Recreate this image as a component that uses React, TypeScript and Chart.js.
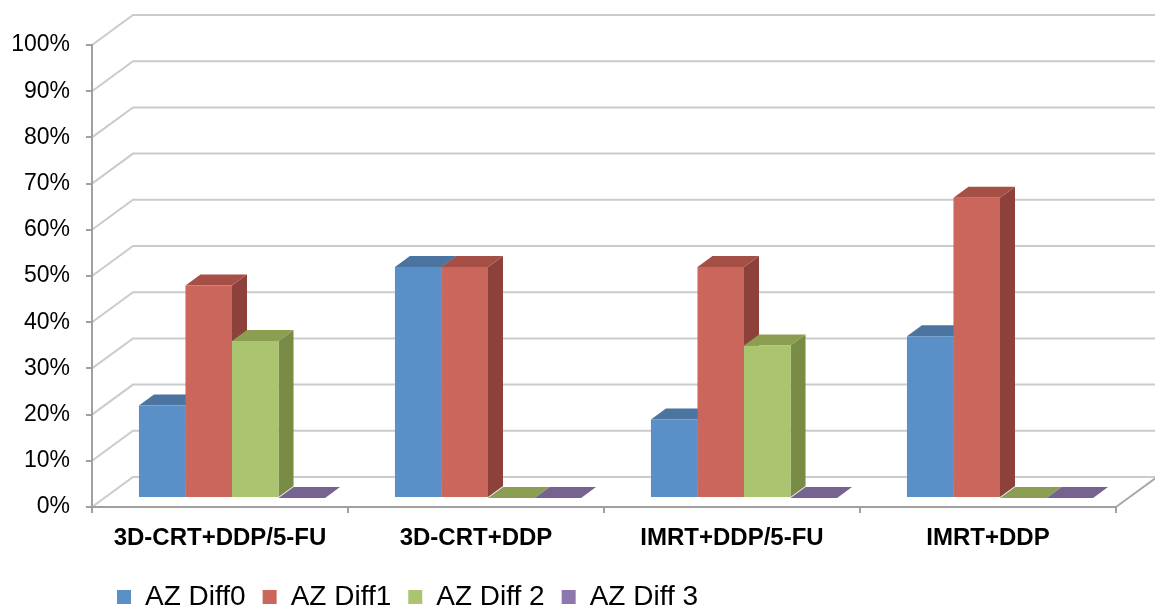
import React, { useEffect, useRef } from 'react';
import { Chart, registerables } from 'chart.js';

Chart.register(...registerables);

// ---- data ----
const categories = ['3D-CRT+DDP/5-FU', '3D-CRT+DDP', 'IMRT+DDP/5-FU', 'IMRT+DDP'];
const seriesNames = ['AZ Diff0', 'AZ Diff1', 'AZ Diff 2', 'AZ Diff 3'];
const diff0 = [20, 50, 17, 35];
const diff1 = [46, 50, 50, 65];
const diff2 = [34, 0, 33, 0];
const diff3 = [0, 0, 0, 0];
const yTickValues = [0, 10, 20, 30, 40, 50, 60, 70, 80, 90, 100];

// ---- styles ----
const frontColors = ['#5B8FC7', '#CB665D', '#ABC46F', '#8E76AE'];
const topColors = ['#4B74A1', '#A64F47', '#8B9E52', '#77638F'];
const sideColors = ['#41658F', '#8C413B', '#788C46', '#64527A'];

const WALL_DX = 41;
const WALL_DY = -30;
const BAR_SHIFT_X = 12;
const BAR_SHIFT_Y = -9;
const BAR_DX = 15;
const BAR_DY = -11;

const FONT = 'Arial, "Liberation Sans", sans-serif';

const threeD = {
  id: 'threeD',
  afterLayout(chart: any) {
    const lg = chart.legend;
    if (lg) {
      const shift = 100 - lg.left;
      lg.left += shift;
      lg.right += shift;
      const h = lg.height;
      lg.top = 566;
      lg.bottom = lg.top + h;
    }
  },
  beforeDraw(chart: any) {
    const { ctx, chartArea: a } = chart;
    const y = chart.scales.y;
    ctx.save();
    ctx.lineWidth = 2;
    ctx.strokeStyle = '#cbcbcb';
    for (const v of yTickValues) {
      const py = y.getPixelForValue(v);
      ctx.beginPath();
      ctx.moveTo(a.left, py);
      ctx.lineTo(a.left + WALL_DX, py + WALL_DY);
      ctx.lineTo(a.right + WALL_DX + 2, py + WALL_DY);
      ctx.stroke();
    }
    ctx.strokeStyle = '#a8a8a8';
    ctx.beginPath();
    ctx.moveTo(a.right, a.bottom);
    ctx.lineTo(a.right + WALL_DX, a.bottom + WALL_DY);
    ctx.stroke();
    ctx.restore();
  },
  beforeDatasetsDraw(chart: any) {
    const ctx = chart.ctx;
    const n = chart.data.labels.length;
    const nd = chart.data.datasets.length;
    ctx.save();
    ctx.translate(BAR_SHIFT_X, BAR_SHIFT_Y);
    for (let i = 0; i < n; i++) {
      for (let d = 0; d < nd; d++) {
        const bar = chart.getDatasetMeta(d).data[i];
        if (!bar) continue;
        const { x, y, base, width } = bar.getProps(['x', 'y', 'base', 'width'], true);
        const L = x - width / 2;
        const R = x + width / 2;
        // side
        ctx.fillStyle = sideColors[d];
        ctx.beginPath();
        ctx.moveTo(R, y);
        ctx.lineTo(R + BAR_DX, y + BAR_DY);
        ctx.lineTo(R + BAR_DX, base + BAR_DY);
        ctx.lineTo(R, base);
        ctx.closePath();
        ctx.fill();
        // top
        ctx.fillStyle = topColors[d];
        ctx.beginPath();
        ctx.moveTo(L, y);
        ctx.lineTo(L + BAR_DX, y + BAR_DY);
        ctx.lineTo(R + BAR_DX, y + BAR_DY);
        ctx.lineTo(R, y);
        ctx.closePath();
        ctx.fill();
      }
    }
    ctx.restore();
    ctx.save();
    ctx.translate(BAR_SHIFT_X, BAR_SHIFT_Y);
  },
  afterDatasetsDraw(chart: any) {
    chart.ctx.restore();
  },
};

export default function App() {
  const ref = useRef<HTMLCanvasElement | null>(null);

  useEffect(() => {
    document.body.style.margin = '0';
    if (!ref.current) return;
    const seriesValues = [diff0, diff1, diff2, diff3];
    const chart = new Chart(ref.current, {
      type: 'bar',
      data: {
        labels: categories,
        datasets: seriesNames.map((name, d) => ({
          label: name,
          data: seriesValues[d],
          backgroundColor: frontColors[d],
          borderWidth: 0,
          barPercentage: 1,
          categoryPercentage: 0.727,
          clip: false as any,
        })),
      },
      options: {
        animation: false,
        responsive: true,
        maintainAspectRatio: false,
        layout: { padding: { top: 45, right: 39, bottom: 0, left: 0 } },
        plugins: {
          legend: {
            display: true,
            position: 'bottom',
            align: 'start',
            labels: {
              boxWidth: 14,
              boxHeight: 14,
              padding: 17,
              color: '#000',
              font: { family: FONT, size: 28 },
            },
          },
          tooltip: { enabled: false },
          title: { display: false },
        },
        scales: {
          x: {
            grid: {
              display: true,
              drawOnChartArea: false,
              drawTicks: true,
              tickLength: 6,
              color: '#a0a0a0',
              lineWidth: 2,
              offset: true,
            },
            border: { display: true, color: '#a0a0a0', width: 2 },
            ticks: {
              color: '#000',
              padding: 11,
              maxRotation: 0,
              autoSkip: false,
              font: { family: FONT, size: 24, weight: 'bold' },
            },
            afterFit: (s: any) => {
              s.height = 48;
              s.paddingLeft = 0;
              s.paddingRight = 0;
            },
          },
          y: {
            min: 0,
            max: 100,
            grid: {
              display: true,
              drawOnChartArea: false,
              drawTicks: true,
              tickLength: 6,
              color: '#a0a0a0',
              lineWidth: 2,
            },
            border: { display: true, color: '#a0a0a0', width: 2 },
            ticks: {
              stepSize: 10,
              padding: 16,
              color: '#000',
              font: { family: FONT, size: 23 },
              callback: (v: any) => v + '%',
            },
            afterFit: (s: any) => {
              s.width = 92;
              s.paddingTop = 0;
              s.paddingBottom = 0;
            },
          },
        },
      },
      plugins: [threeD],
    });
    return () => chart.destroy();
  }, []);

  return (
    <div style={{ position: 'relative', width: 1155, height: 610, background: '#fff' }}>
      <canvas ref={ref} />
    </div>
  );
}
